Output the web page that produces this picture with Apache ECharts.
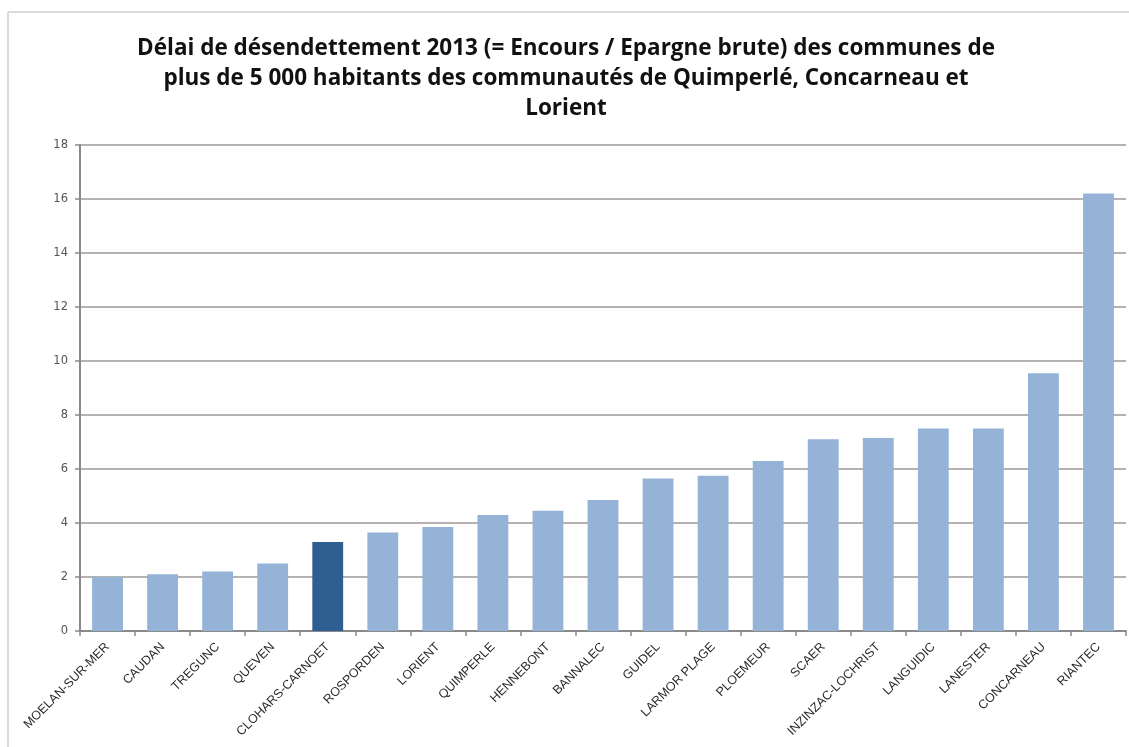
<!DOCTYPE html>
<html>
<head>
<meta charset="utf-8">
<script src="https://cdn.jsdelivr.net/npm/echarts@6/dist/echarts.min.js"></script>
<style>
  html, body { margin: 0; padding: 0; background: #ffffff; }
  #chart { width: 1129px; height: 747px; }
</style>
</head>
<body>
<div id="chart"></div>
<script>
// Communes, sorted by debt-payback period (years)
const communes = [
  'MOELAN-SUR-MER', 'CAUDAN', 'TREGUNC', 'QUEVEN', 'CLOHARS-CARNOET',
  'ROSPORDEN', 'LORIENT', 'QUIMPERLE', 'HENNEBONT', 'BANNALEC',
  'GUIDEL', 'LARMOR PLAGE', 'PLOEMEUR', 'SCAER', 'INZINZAC-LOCHRIST',
  'LANGUIDIC', 'LANESTER', 'CONCARNEAU', 'RIANTEC'
];
const delaiAnnees = [
  2.0, 2.1, 2.2, 2.5, 3.3,
  3.65, 3.85, 4.3, 4.45, 4.85,
  5.65, 5.75, 6.3, 7.1, 7.15,
  7.5, 7.5, 9.55, 16.2
];
const communeMiseEnAvant = 'CLOHARS-CARNOET';
const yTicks = [0, 2, 4, 6, 8, 10, 12, 14, 16, 18];

const titre = 'Délai de désendettement 2013 (= Encours / Epargne brute) des communes de\n' +
  'plus de 5 000 habitants des communautés de Quimperlé, Concarneau et\n' +
  'Lorient';

const barData = delaiAnnees.map((v, i) => ({
  value: v,
  itemStyle: { color: communes[i] === communeMiseEnAvant ? '#2e5e92' : '#95b3d7' }
}));

const chart = echarts.init(document.getElementById('chart'), null, { renderer: 'canvas' });
chart.setOption({
  backgroundColor: '#ffffff',
  animation: false,
  graphic: [
    { type: 'line', shape: { x1: 8, y1: 12, x2: 1129, y2: 12 }, style: { stroke: '#cfcfcf', lineWidth: 1.5 } },
    { type: 'line', shape: { x1: 8, y1: 12, x2: 8, y2: 747 }, style: { stroke: '#cfcfcf', lineWidth: 1.5 } }
  ],
  title: {
    text: titre,
    left: 561,
    top: 29,
    textAlign: 'center',
    textStyle: {
      fontFamily: 'Open Sans',
      fontWeight: 'bold',
      fontSize: 22.5,
      lineHeight: 30,
      color: '#111111'
    }
  },
  grid: { left: 80, right: 3, top: 145, bottom: 116, containLabel: false },
  xAxis: {
    type: 'category',
    data: communes,
    axisLine: { lineStyle: { color: '#8a8a8a', width: 2 } },
    axisTick: { show: true, length: 5, lineStyle: { color: '#8a8a8a', width: 1.5 } },
    axisLabel: {
      interval: 0,
      rotate: 45,
      margin: 14,
      fontFamily: 'Liberation Sans',
      fontSize: 12.5,
      color: '#2a2a2a'
    }
  },
  yAxis: {
    type: 'value',
    min: 0,
    max: yTicks[yTicks.length - 1],
    interval: yTicks[1] - yTicks[0],
    axisLine: { show: true, lineStyle: { color: '#8a8a8a', width: 2 } },
    axisTick: { show: true, length: 5, lineStyle: { color: '#8a8a8a', width: 1.5 } },
    axisLabel: {
      margin: 12,
      fontFamily: 'DejaVu Sans',
      fontSize: 11.5,
      color: '#555555'
    },
    splitLine: { lineStyle: { color: '#9e9898', width: 1.5 } }
  },
  series: [{
    type: 'bar',
    data: barData,
    barCategoryGap: '44%'
  }]
});
</script>
</body>
</html>
